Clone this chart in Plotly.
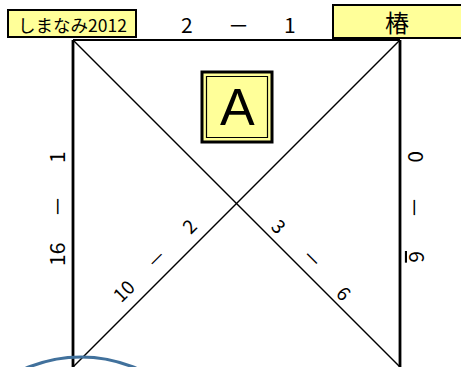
import plotly.graph_objects as go

# ---- data ----
team_top_left = "しまなみ2012"
team_top_right = "椿"
block_label = "A"
score_top = ["2", "1"]          # top-left vs top-right
score_left = ["16", "1"]        # read bottom -> top
score_right = ["0", "6"]        # read top -> bottom
score_diag_up = ["10", "2"]     # bottom-left -> top-right
score_diag_down = ["3", "6"]    # top-left -> bottom-right
dash = "－"

# ---- layout geometry ----
W, H = 461, 367
L, R, TOP = 73, 400, 40
SIDE = R - L
BOT = TOP + SIDE
FONT = "Noto Sans CJK JP"
YEL = "#FFFF99"

fig = go.Figure()

def line(xs, ys, w):
    fig.add_trace(go.Scatter(x=xs, y=ys, mode="lines",
                             line=dict(color="black", width=w),
                             hoverinfo="skip", showlegend=False))

line([L, R], [TOP, TOP], 2.2)
line([L, L], [TOP, BOT + 20], 2.8)
line([R, R], [TOP, BOT + 20], 2.8)
line([L, R], [TOP, BOT], 1.4)
line([R, L], [TOP, BOT], 1.4)

shapes = [
    dict(type="rect", x0=8, y0=10, x1=136, y1=37, fillcolor=YEL,
         line=dict(color="black", width=2), layer="above"),
    dict(type="rect", x0=333, y0=5, x1=470, y1=38, fillcolor=YEL,
         line=dict(color="black", width=2), layer="above"),
    dict(type="rect", x0=202, y0=72, x1=272, y1=142, fillcolor=YEL,
         line=dict(color="black", width=3), layer="above"),
    dict(type="rect", x0=206.5, y0=76.5, x1=267.5, y1=137.5,
         fillcolor="rgba(0,0,0,0)", line=dict(color="black", width=1.2),
         layer="above"),
    dict(type="circle", x0=81 - 140, y0=357, x1=81 + 140, y1=357 + 280,
         line=dict(color="#41719C", width=3.2), layer="above"),
]

ann = []
def txt(x, y, t, size, angle=0, family=FONT):
    ann.append(dict(x=x, y=y, xref="x", yref="y", text=t, showarrow=False,
                    textangle=angle, xanchor="center", yanchor="middle",
                    font=dict(family=family, size=size, color="black")))

txt(72, 24, team_top_left, 17.5)
txt(397, 21, team_top_right, 24)
txt(237, 107, block_label, 52, family="Liberation Sans, Arial")

# top score
txt(187, 24, score_top[0], 21)
txt(238, 24, dash, 21)
txt(290, 24, score_top[1], 21)

# left vertical (bottom -> top)
txt(56, 255, score_left[0], 21, -90)
txt(56, 207, dash, 21, -90)
txt(56, 157, score_left[1], 21, -90)

# right vertical (top -> bottom)
txt(417, 157, score_right[0], 21, 90)
txt(416, 207, dash, 21, 90)
txt(418, 257, "<u>" + score_right[1] + "</u>", 21, 90)

# diagonal up
txt(122, 290, score_diag_up[0], 19, -45)
txt(155, 258, dash, 19, -45)
txt(188, 225, score_diag_up[1], 19, -45)

# diagonal down
txt(280, 225, score_diag_down[0], 19, 45)
txt(313, 257, dash, 19, 45)
txt(345, 292, score_diag_down[1], 19, 45)

fig.update_layout(
    width=W, height=H, margin=dict(l=0, r=0, t=0, b=0),
    paper_bgcolor="white", plot_bgcolor="white",
    xaxis=dict(range=[0, W], visible=False, fixedrange=True),
    yaxis=dict(range=[H, 0], visible=False, fixedrange=True),
    shapes=shapes, annotations=ann, showlegend=False,
)
fig.write_html("out.html", config=dict(displayModeBar=False),
               post_script="document.body.style.margin='0';document.body.style.overflow='hidden';")
